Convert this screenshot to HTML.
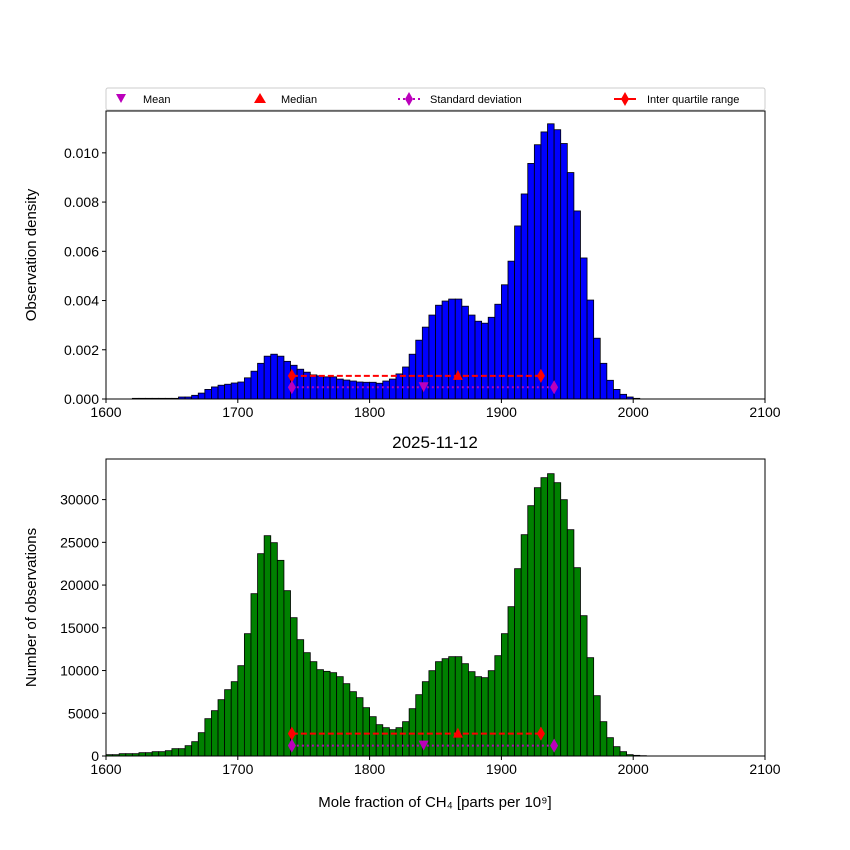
<!DOCTYPE html>
<html><head><meta charset="utf-8"><style>
body{margin:0;background:#fff}
svg{display:block;font-family:"Liberation Sans","DejaVu Sans",sans-serif}
</style></head><body>
<svg id="s" width="850" height="850" viewBox="0 0 850 850"></svg>
<script>
const binStart = 1600, binWidth = 5;
const densityE4 = [0,0,0,0,0.27,0.27,0.27,0.27,0.27,0.27,0.27,0.81,0.81,1.5,2.4,3.9,
4.9,5.6,6.0,6.5,6.9,8.6,11.3,14.5,17.4,18.2,17.4,15.3,13.7,12.1,10.9,9.8,9.4,9.0,9.0,8.1,
7.7,7.3,6.9,6.8,6.8,6.4,7.3,8.1,10.2,13.0,18.2,23.9,29.2,34.1,38.1,39.8,40.6,40.6,37.7,34.1,
31.6,30.8,33.2,38.5,46.4,56.0,70.3,83.3,95.7,103.3,108.5,111.8,109.4,103.8,92.0,76.4,57.3,40.2,24.7,14.5,
7.6,3.9,1.9,0.81,0.27,0];
const counts = [156,156,273,273,273,390,390,507,507,624,858,858,1209,1677,2730,
4368,5304,6591,7761,8697,10569,14313,18993,23673,25779,24960,22893,19344,16185,13611,12090,11037,10101,9906,9750,
9282,8463,7527,6825,5655,4602,3666,3315,3081,3315,4017,5538,7176,8697,9984,11037,11388,11622,11622,10803,
9867,9282,9165,9984,11739,14313,17472,21918,25896,29289,31395,32565,33033,31980,29991,26481,22035,16419,11505,7059,
4017,2145,1092,507,156,78,39];
const xTicks = [1600,1700,1800,1900,2000,2100];
const topTicks = [0,0.002,0.004,0.006,0.008,0.010];
const topTickLabels = ["0.000","0.002","0.004","0.006","0.008","0.010"];
const botTicks = [0,5000,10000,15000,20000,25000,30000];
const stats = {mean:1841, median:1867, q1:1741, q3:1930, sdLo:1741, sdHi:1940};
const topMarkY = [0.00094, 0.000475];
const botMarkY = [2620, 1210];

const NS="http://www.w3.org/2000/svg", s=document.getElementById('s');
function el(t,a,p){const e=document.createElementNS(NS,t);for(const k in a)e.setAttribute(k,a[k]);(p||s).appendChild(e);return e;}
const L=106,R=765;
const X=v=>L+(v-1600)*(R-L)/500;
function panel(top,bot,ymax,vals,scale,color,ticks,labels,ylabel,name,my){
  const Y=v=>bot-v/ymax*(bot-top);
  const g=el('g',{});
  
  vals.forEach((v,i)=>{const val=v*scale;const x0=X(binStart+i*binWidth),x1=X(binStart+(i+1)*binWidth);
    const r=el('rect',{x:x0,y:Y(val),width:x1-x0,height:bot-Y(val),fill:color,stroke:'#000','stroke-width':0.8},g);
    });
  el('rect',{x:L,y:top,width:R-L,height:bot-top,fill:'none',stroke:'#000','stroke-width':1},g);
  xTicks.forEach(t=>{el('line',{x1:X(t),x2:X(t),y1:bot,y2:bot+4,stroke:'#000'},g);
    const tx=el('text',{x:X(t),y:bot+18,'text-anchor':'middle','font-size':14},g);tx.textContent=t;
    });
  ticks.forEach((t,i)=>{el('line',{x1:L-4,x2:L,y1:Y(t),y2:Y(t),stroke:'#000'},g);
    const tx=el('text',{x:L-7,y:Y(t)+5,'text-anchor':'end','font-size':14},g);tx.textContent=labels[i];
    });
  const yl=el('text',{x:0,y:0,'text-anchor':'middle','font-size':15,transform:`translate(36,${(top+bot)/2}) rotate(-90)`},g);
  yl.textContent=ylabel;
  // stats markers
  const yi=Y(my[0]), ys=Y(my[1]);
  el('line',{x1:X(stats.q1),x2:X(stats.q3),y1:yi,y2:yi,stroke:'#f00','stroke-width':2,'stroke-dasharray':'6,3'},g);
  el('line',{x1:X(stats.sdLo),x2:X(stats.sdHi),y1:ys,y2:ys,stroke:'#b0b','stroke-width':2,'stroke-dasharray':'2,3'},g);
  const dia=(x,y,c,n)=>{const p=el('polygon',{points:`${x},${y-7} ${x+4},${y} ${x},${y+7} ${x-4},${y}`,fill:c},g);
    };
  dia(X(stats.q1),yi,'#f00','iqr-marker');dia(X(stats.q3),yi,'#f00','iqr-marker');
  dia(X(stats.sdLo),ys,'#b0b','std-marker');dia(X(stats.sdHi),ys,'#b0b','std-marker');
  const m=X(stats.median);const pm=el('polygon',{points:`${m},${yi-6} ${m+5},${yi+4} ${m-5},${yi+4}`,fill:'#f00'},g);
  
  const mn=X(stats.mean);const pn=el('polygon',{points:`${mn-5},${ys-5} ${mn+5},${ys-5} ${mn},${ys+5}`,fill:'#b0b'},g);
  
}
panel(111,399,0.0117,densityE4,1e-4,'#0000ff',topTicks,topTickLabels,'Observation density','density',topMarkY);
panel(459,756,34750,counts,1,'#008000',botTicks,botTicks.map(String),'Number of observations','count',botMarkY);
const ti=el('text',{x:435,y:448,'text-anchor':'middle','font-size':17});ti.textContent='2025-11-12';

const xl=el('text',{x:435,y:807,'text-anchor':'middle','font-size':15});xl.textContent='Mole fraction of CH₄ [parts per 10⁹]';

// legend
const lg=el('g',{});
el('rect',{x:106,y:88,width:659,height:22,fill:'#fff',stroke:'#ccc',rx:2},lg);
function lt(x,t){const e=el('text',{x:x,y:103,'font-size':11},lg);e.textContent=t;}
el('polygon',{points:'116,94 126,94 121,103',fill:'#b0b'},lg);lt(143,'Mean');
el('polygon',{points:'260,93 266,103 254,103',fill:'#f00'},lg);lt(281,'Median');
el('line',{x1:398,x2:420,y1:99,y2:99,stroke:'#b0b','stroke-width':2,'stroke-dasharray':'2,3'},lg);
el('polygon',{points:'409,92 413,99 409,106 405,99',fill:'#b0b'},lg);lt(430,'Standard deviation');
el('line',{x1:614,x2:636,y1:99,y2:99,stroke:'#f00','stroke-width':2},lg);
el('polygon',{points:'625,92 629,99 625,106 621,99',fill:'#f00'},lg);lt(647,'Inter quartile range');
</script>
</body></html>
